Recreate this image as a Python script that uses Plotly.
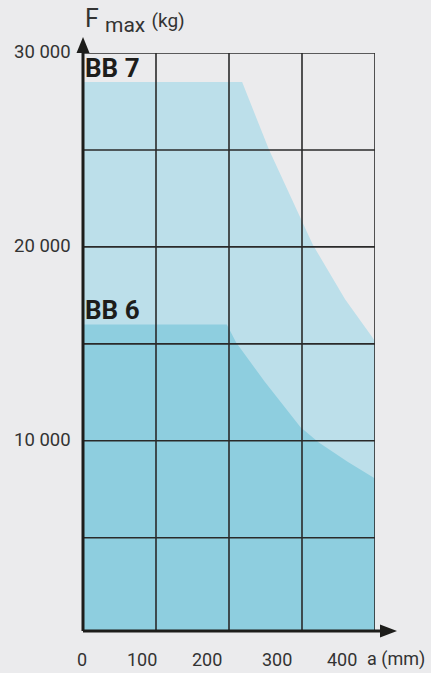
import plotly.graph_objects as go

# ---- data ----
bb7_a = [0, 218, 255, 296, 315, 359, 400]
bb7_f = [28500, 28500, 25000, 21600, 20100, 17300, 15150]

bb6_a = [0, 197, 210, 249, 298, 323, 363, 400]
bb6_f = [16000, 16000, 15050, 13050, 10700, 9910, 8900, 8060]

x_grid = [0, 100, 200, 300, 400]
x_tick_text = ["0", "100", "200", "300", "400"]
y_grid = [5000, 10000, 15000, 20000, 25000, 30000]
y_tick_vals = [0, 10000, 20000, 30000]
y_tick_text = ["0", "10 000", "20 000", "30 000"]

# ---- styling ----
BG = "#ebebed"
LIGHT = "#bcdfea"
DARK = "#8ecedf"
INK = "#1d1d1b"
GRID = "#2a2a2a"
LABEL = "#333333"
FONT = "Roboto"

fig = go.Figure()
fig.add_trace(go.Scatter(x=bb7_a, y=bb7_f, mode="lines", fill="tozeroy",
                         fillcolor=LIGHT, line=dict(width=0, color=LIGHT),
                         hoverinfo="skip", showlegend=False))
fig.add_trace(go.Scatter(x=bb6_a, y=bb6_f, mode="lines", fill="tozeroy",
                         fillcolor=DARK, line=dict(width=0, color=DARK),
                         hoverinfo="skip", showlegend=False))

shapes = []
# grid lines drawn above the fills
for v in x_grid[1:]:
    shapes.append(dict(type="line", xref="x", yref="paper", x0=v, x1=v, y0=0, y1=1,
                       line=dict(color=GRID, width=1.6), layer="above"))
for v in y_grid:
    shapes.append(dict(type="line", xref="paper", yref="y", x0=0, x1=1, y0=v, y1=v,
                       line=dict(color=GRID, width=1.6), layer="above"))
# axis lines
shapes.append(dict(type="line", xref="paper", yref="paper", x0=0, x1=0, y0=0, y1=1,
                   line=dict(color=INK, width=3), layer="above"))
shapes.append(dict(type="line", xref="paper", yref="paper", x0=0, x1=1, y0=0, y1=0,
                   line=dict(color=INK, width=3), layer="above"))
# arrow heads
shapes.append(dict(type="path", xref="paper", yref="paper",
                   xsizemode="pixel", ysizemode="pixel", xanchor=0, yanchor=1,
                   path="M -6.5,0 L 6.5,0 L 0,16 Z",
                   fillcolor=INK, line=dict(width=0), layer="above"))
shapes.append(dict(type="path", xref="paper", yref="paper",
                   xsizemode="pixel", ysizemode="pixel", xanchor=1, yanchor=0,
                   path="M 0,1.5 L 5,1.5 L 5,6.5 L 22,0 L 5,-6.5 L 5,-1.5 L 0,-1.5 Z",
                   fillcolor=INK, line=dict(width=0), layer="above"))

annotations = []
# y tick labels
for v, t in zip(y_tick_vals, y_tick_text):
    annotations.append(dict(x=0, xref="paper", y=v, yref="y", text=t, showarrow=False,
                            xanchor="right", yanchor="middle", xshift=-10,
                            yshift=15 if v == 0 else 1,
                            font=dict(family=FONT, size=18.5, color=LABEL)))
# x tick labels (placed slightly left of the grid lines as in the original)
x_label_shift = [-1, -14, -22, -25, -33]
for v, t, s in zip(x_grid, x_tick_text, x_label_shift):
    annotations.append(dict(x=v, xref="x", y=0, yref="paper", text=t, showarrow=False,
                            xanchor="center", yanchor="middle", xshift=s, yshift=-28,
                            font=dict(family=FONT, size=18, color=LABEL)))
annotations.append(dict(x=x_grid[-1], xref="x", y=0, yref="paper", text="a (mm)",
                        showarrow=False, xanchor="left", yanchor="middle",
                        xshift=-10, yshift=-28,
                        font=dict(family=FONT, size=18, color=LABEL)))
# axis title
annotations.append(dict(x=0, xref="paper", y=1, yref="paper",
                        text='F <sub><span style="font-size:21px">max</span></sub> '
                             '<span style="font-size:19px">(kg)</span>',
                        showarrow=False, xanchor="left", yanchor="bottom",
                        xshift=0, yshift=14,
                        font=dict(family=FONT, size=25, color=LABEL)))
# series labels
annotations.append(dict(x=0, xref="x", y=bb7_f[0], yref="y", text="<b>BB 7</b>",
                        showarrow=False, xanchor="left", yanchor="bottom", xshift=0, yshift=-3,
                        font=dict(family=FONT, size=26, color=INK)))
annotations.append(dict(x=0, xref="x", y=bb6_f[0], yref="y", text="<b>BB 6</b>",
                        showarrow=False, xanchor="left", yanchor="bottom", xshift=0, yshift=-3,
                        font=dict(family=FONT, size=26, color=INK)))

fig.update_layout(
    width=431, height=673,
    margin=dict(l=83, r=56, t=53, b=42, pad=0),
    paper_bgcolor=BG, plot_bgcolor=BG,
    xaxis=dict(range=[0, 400], showgrid=False, zeroline=False, showticklabels=False,
               showline=False, ticks="", fixedrange=True),
    yaxis=dict(range=[190, 30000], showgrid=False, zeroline=False, showticklabels=False,
               showline=False, ticks="", fixedrange=True),
    shapes=shapes, annotations=annotations, showlegend=False,
)

fig.write_html("out.html",
               config={"displayModeBar": False, "staticPlot": True},
               post_script="document.body.style.margin='0px';"
                           "document.body.style.overflow='hidden';"
                           "document.body.style.background='#ebebed';")
